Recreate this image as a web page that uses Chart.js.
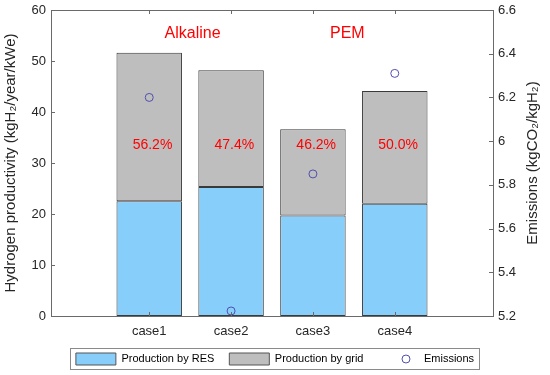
<!DOCTYPE html>
<html>
<head>
<meta charset="utf-8">
<script src="https://cdn.jsdelivr.net/npm/chart.js@4"></script>
<style>
html,body{margin:0;padding:0;background:#fff;}
#wrap{width:550px;height:375px;}
</style>
</head>
<body>
<div id="wrap"><canvas id="c" width="550" height="375"></canvas></div>
<script>
// ---- data ----
const categories = ['case1', 'case2', 'case3', 'case4'];
const xPositions = [1, 2, 3, 4];
const productionRES = [22.5, 25.3, 19.7, 22.0];
const productionGrid = [29.1, 22.9, 16.9, 22.1];
const emissions = [6.20, 5.223, 5.85, 6.31];
const gridShareLabels = ['56.2%', '47.4%', '46.2%', '50.0%'];
const groupLabels = ['Alkaline', 'PEM'];
const groupLabelX = [1.53, 3.42];
const groupLabelY = 55.3;
const shareLabelY = 33.5;
const leftTicks = [0, 10, 20, 30, 40, 50, 60];
const rightTicks = [5.2, 5.4, 5.6, 5.8, 6.0, 6.2, 6.4, 6.6];

const FONT = "Arial, 'Liberation Sans', sans-serif";
const AXIS_COLOR = '#6a6a6a';
const TEXT_COLOR = '#262626';

const boxPlugin = {
  id: 'boxPlugin',
  afterDatasetsDraw(chart) {
    const {ctx, chartArea: a, scales} = chart;
    ctx.save();
    // inward tick marks
    ctx.strokeStyle = AXIS_COLOR;
    ctx.lineWidth = 1;
    ctx.beginPath();
    const tl = 4;
    xPositions.forEach(v => {
      const px = Math.round(scales.x.getPixelForValue(v)) + 0.5;
      ctx.moveTo(px, a.bottom); ctx.lineTo(px, a.bottom - tl);
      ctx.moveTo(px, a.top); ctx.lineTo(px, a.top + tl);
    });
    leftTicks.forEach(v => {
      const py = Math.round(scales.y.getPixelForValue(v)) + 0.5;
      ctx.moveTo(a.left, py); ctx.lineTo(a.left + tl, py);
    });
    rightTicks.forEach(v => {
      const py = Math.round(scales.y2.getPixelForValue(v)) + 0.5;
      ctx.moveTo(a.right, py); ctx.lineTo(a.right - tl, py);
    });
    ctx.stroke();
    // box
    ctx.strokeStyle = AXIS_COLOR;
    ctx.strokeRect(Math.round(a.left) + 0.5, Math.round(a.top) + 0.5,
                   Math.round(a.right - a.left), Math.round(a.bottom - a.top));
    // annotations
    ctx.fillStyle = '#ff0000';
    ctx.textAlign = 'center';
    ctx.textBaseline = 'middle';
    ctx.font = '16px ' + FONT;
    groupLabels.forEach((t, i) => {
      ctx.fillText(t, scales.x.getPixelForValue(groupLabelX[i]), scales.y.getPixelForValue(groupLabelY));
    });
    ctx.font = '14px ' + FONT;
    gridShareLabels.forEach((t, i) => {
      ctx.fillText(t, scales.x.getPixelForValue(xPositions[i] + 0.04), scales.y.getPixelForValue(shareLabelY));
    });
    // right axis title (reading bottom-to-top)
    const y2 = scales.y2;
    ctx.fillStyle = TEXT_COLOR;
    ctx.font = '15px ' + FONT;
    ctx.translate(533, (y2.top + y2.bottom) / 2);
    ctx.rotate(-Math.PI / 2);
    ctx.fillText('Emissions (kgCO\u2082/kgH\u2082)', 0, 0);
    ctx.restore();
  },
  afterDraw(chart) {
    const lg = chart.legend;
    if (!lg || !lg.legendHitBoxes.length) return;
    const hb = lg.legendHitBoxes;
    const ctx = chart.ctx;
    ctx.save();
    const first = hb[0], last = hb[hb.length - 1];
    const cy = first.top + first.height / 2;
    const left = first.left - 6, right = last.left + last.width + 5;
    ctx.strokeStyle = '#8a8a8a';
    ctx.lineWidth = 1;
    ctx.strokeRect(Math.round(left) + 0.5, Math.round(cy - 11) + 0.5, Math.round(right - left), 21);
    // emissions marker in legend
    const em = hb[2];
    ctx.strokeStyle = '#5050b0';
    ctx.beginPath();
    ctx.arc(em.left + 40 + 5.5 - 18, cy, 4, 0, Math.PI * 2);
    ctx.stroke();
    ctx.restore();
  }
};

function fitY(width) {
  return function(scale) {
    scale.width = width;
    scale.paddingTop = 0;
    scale.paddingBottom = 0;
  };
}

new Chart(document.getElementById('c'), {
  type: 'bar',
  data: {
    datasets: [
      {
        label: 'Production by RES',
        data: xPositions.map((x, i) => ({x, y: productionRES[i]})),
        backgroundColor: '#87cefa',
        borderColor: '#3a3a3a',
        borderWidth: 1,
        borderSkipped: false,
        barPercentage: 0.8,
        categoryPercentage: 1,
        yAxisID: 'y',
        order: 2
      },
      {
        label: 'Production by grid',
        data: xPositions.map((x, i) => ({x, y: productionGrid[i]})),
        backgroundColor: '#bebebe',
        borderColor: '#3a3a3a',
        borderWidth: 1,
        borderSkipped: false,
        barPercentage: 0.8,
        categoryPercentage: 1,
        yAxisID: 'y',
        order: 2
      },
      {
        type: 'line',
        label: 'Emissions',
        data: xPositions.map((x, i) => ({x, y: emissions[i]})),
        showLine: false,
        pointStyle: 'circle',
        pointRadius: 4,
        pointBorderWidth: 1,
        pointBorderColor: '#5050b0',
        pointBackgroundColor: 'rgba(0,0,0,0)',
        backgroundColor: 'rgba(0,0,0,0)',
        borderColor: 'rgba(0,0,0,0)',
        yAxisID: 'y2',
        order: 1
      }
    ]
  },
  options: {
    responsive: false,
    animation: false,
    layout: {padding: {top: 10, left: 0, right: 0, bottom: 0}},
    plugins: {
      tooltip: {enabled: false},
      legend: {
        position: 'bottom',
        labels: {
          font: {family: FONT, size: 11},
          color: '#000',
          boxWidth: 40,
          boxHeight: 12,
          padding: 15,
          generateLabels(chart) {
            return chart.data.datasets.map((ds, i) => ({
              text: ds.label,
              fillStyle: i < 2 ? ds.backgroundColor : 'rgba(0,0,0,0)',
              strokeStyle: i < 2 ? '#555' : 'rgba(0,0,0,0)',
              lineWidth: 1,
              hidden: false,
              datasetIndex: i
            }));
          }
        }
      }
    },
    scales: {
      x: {
        type: 'linear',
        stacked: true,
        offset: false,
        min: -0.2,
        max: 5.2,
        grid: {display: false, drawTicks: false, offset: false},
        border: {display: false},
        afterBuildTicks(scale) { scale.ticks = xPositions.map(v => ({value: v})); },
        afterFit(scale) { scale.height = 22; scale.paddingLeft = 0; scale.paddingRight = 0; },
        ticks: {
          padding: 8,
          font: {family: FONT, size: 13},
          color: TEXT_COLOR,
          maxRotation: 0,
          callback(v) { const i = xPositions.indexOf(v); return i >= 0 ? categories[i] : ''; }
        }
      },
      y: {
        position: 'left',
        stacked: true,
        min: 0,
        max: 60,
        grid: {display: false, drawTicks: false},
        border: {display: false},
        afterBuildTicks(scale) { scale.ticks = leftTicks.map(v => ({value: v})); },
        afterFit: fitY(51),
        ticks: {padding: 5, font: {family: FONT, size: 13}, color: TEXT_COLOR},
        title: {
          display: true,
          text: 'Hydrogen productivity (kgH\u2082/year/kWe)',
          font: {family: FONT, size: 15},
          color: TEXT_COLOR,
          padding: {top: 2, bottom: 0}
        }
      },
      y2: {
        position: 'right',
        min: 5.2,
        max: 6.6,
        grid: {display: false, drawTicks: false},
        border: {display: false},
        afterBuildTicks(scale) { scale.ticks = rightTicks.map(v => ({value: v})); },
        afterFit: fitY(57),
        ticks: {
          padding: 5,
          font: {family: FONT, size: 13},
          color: TEXT_COLOR,
          callback(v) { return String(Math.round(v * 10) / 10); }
        }
      }
    }
  },
  plugins: [boxPlugin]
});
</script>
</body>
</html>
